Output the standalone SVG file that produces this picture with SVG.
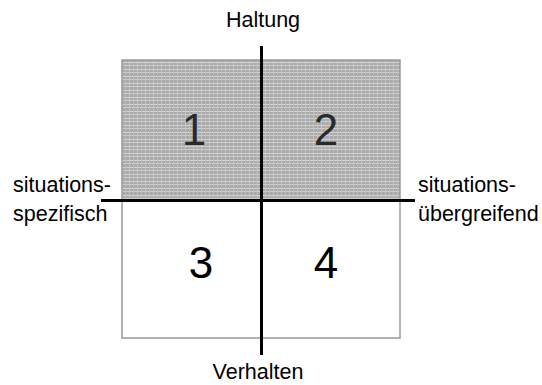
<svg xmlns="http://www.w3.org/2000/svg" width="542" height="385" viewBox="0 0 542 385">
<defs>
<pattern id="grid" width="8" height="7" patternUnits="userSpaceOnUse" x="122" y="60">
<rect width="8" height="7" fill="#a9a9a9"/>
<rect y="2" width="8" height="1" fill="#d4d4d4"/>
<rect y="5" width="8" height="1" fill="#cfcfcf"/>
<rect x="3" width="1" height="7" fill="#bdbdbd"/>
<rect x="7" width="1" height="7" fill="#c4c4c4"/>
</pattern>
</defs>
<style>
.lbl{font-family:"Liberation Sans",Arial,sans-serif;font-size:21.5px;fill:#000}
.num{font-family:"Liberation Sans",Arial,sans-serif;font-size:44px;text-anchor:middle}
.q{stroke:#9a9a9a;stroke-width:1.5}
.axis{stroke:#000;stroke-width:3}
</style>
<g id="q1">
<rect class="q" x="122" y="60" width="139.5" height="140" fill="url(#grid)"/>
<text class="num" x="194" y="145" fill="#2a2a2a">1</text>
</g>
<g id="q2">
<rect class="q" x="261.5" y="60" width="138.5" height="140" fill="url(#grid)"/>
<text class="num" x="326" y="145" fill="#2a2a2a">2</text>
</g>
<g id="q3">
<rect class="q" x="122" y="200" width="139.5" height="138" fill="#fff"/>
<text class="num" x="201" y="278" fill="#000">3</text>
</g>
<g id="q4">
<rect class="q" x="261.5" y="200" width="138.5" height="138" fill="#fff"/>
<text class="num" x="326" y="278" fill="#000">4</text>
</g>
<g id="connectors">
<line class="axis" x1="101" y1="200.5" x2="415" y2="200.5"/>
<line class="axis" x1="261.5" y1="46" x2="261.5" y2="355"/>
</g>
<g id="labels">
<text class="lbl" x="263" y="27" text-anchor="middle">Haltung</text>
<text class="lbl" x="258" y="379" text-anchor="middle">Verhalten</text>
<text class="lbl" x="13" y="192">situations-</text>
<text class="lbl" x="13" y="221">spezifisch</text>
<text class="lbl" x="418" y="192">situations-</text>
<text class="lbl" x="418" y="221">übergreifend</text>
</g>
</svg>
